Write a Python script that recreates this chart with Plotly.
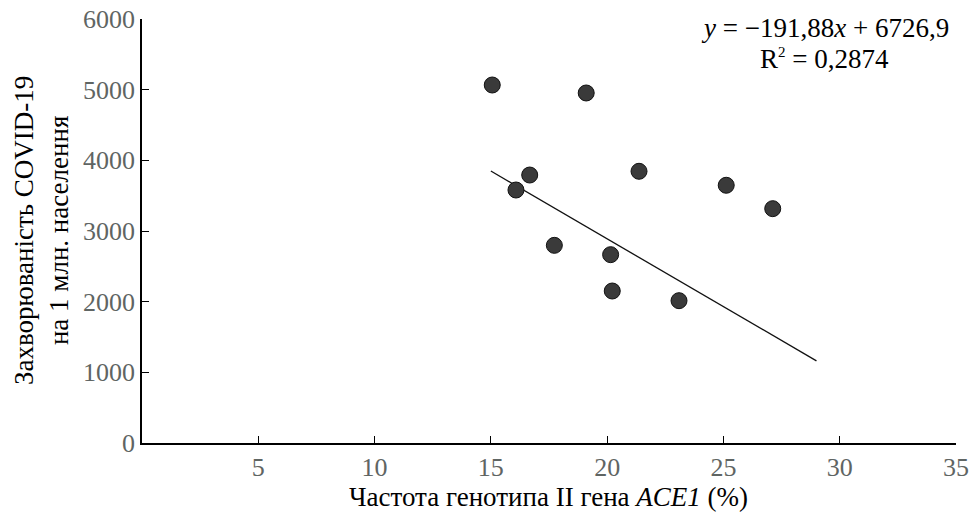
import plotly.graph_objects as go

# Data
genotype_ii = [15.06, 19.10, 16.67, 16.08, 21.37, 25.12, 27.12, 17.73, 20.15, 20.22, 23.09]
incidence = [5066, 4953, 3792, 3580, 3845, 3647, 3316, 2797, 2665, 2151, 2014]

slope = -191.88
intercept = 6726.9
trend_x = [15, 29]
trend_y = [slope * v + intercept for v in trend_x]

x_ticks = [5, 10, 15, 20, 25, 30, 35]
y_ticks = [0, 1000, 2000, 3000, 4000, 5000, 6000]

FONT = "Liberation Serif"
TICK_COLOR = "#5f6563"
TICK_SIZE = 26
TITLE_SIZE = 27

fig = go.Figure()
fig.add_trace(go.Scatter(
    x=trend_x, y=trend_y, mode="lines",
    line=dict(color="#111111", width=1.3), showlegend=False, hoverinfo="skip"))
fig.add_trace(go.Scatter(
    x=genotype_ii, y=incidence, mode="markers",
    marker=dict(size=16, color="#3a3a3a", line=dict(color="#111111", width=1)),
    showlegend=False))

fig.update_layout(
    width=971, height=520,
    margin=dict(l=142, r=15, t=19, b=77, autoexpand=False),
    paper_bgcolor="white", plot_bgcolor="white",
    font=dict(family=FONT, size=TITLE_SIZE, color="black"),
    xaxis=dict(range=[0, 35], tickvals=x_ticks, ticktext=[str(v) for v in x_ticks],
               ticks="inside", ticklen=7, tickcolor="black", tickwidth=1.3,
               showline=True, linecolor="black", linewidth=1.5,
               showgrid=False, zeroline=False, automargin=False,
               ticklabeloverflow="allow",
               tickfont=dict(family=FONT, size=TICK_SIZE, color=TICK_COLOR)),
    yaxis=dict(range=[0, 6000], tickvals=y_ticks, ticktext=[str(v) for v in y_ticks],
               ticks="inside", ticklen=7, tickcolor="black", tickwidth=1.3,
               showline=True, linecolor="black", linewidth=1.5,
               showgrid=False, zeroline=False, automargin=False,
               ticklabeloverflow="allow",
               tickfont=dict(family=FONT, size=TICK_SIZE, color=TICK_COLOR)),
    annotations=[
        dict(text="Частота генотипа II гена <i>ACE1</i> (%)", xref="paper", yref="paper",
             x=0.4988, y=-0.127, showarrow=False, xanchor="center", yanchor="middle",
             font=dict(family=FONT, size=TITLE_SIZE, color="black")),
        dict(text="Захворюваність COVID-19<br>на 1 млн. населення", xref="paper", yref="paper",
             x=-0.124, y=0.5, showarrow=False, xanchor="center", yanchor="middle",
             textangle=-90, align="center",
             font=dict(family=FONT, size=TITLE_SIZE, color="black")),
        dict(text="<i>y</i> = −191,88<i>x</i> + 6726,9", xref="paper", yref="paper",
             x=0.839, y=0.979, showarrow=False, xanchor="center", yanchor="middle",
             font=dict(family=FONT, size=TITLE_SIZE, color="black")),
        dict(text="R<sup><span style='font-size:15px'>2</span></sup> = 0,2874",
             xref="paper", yref="paper",
             x=0.839, y=0.906, showarrow=False, xanchor="center", yanchor="middle",
             font=dict(family=FONT, size=TITLE_SIZE, color="black")),
    ],
)

fig.write_html(
    "out.html",
    config={"displayModeBar": False},
    post_script="document.body.style.margin='0';document.body.style.overflow='hidden';",
)
